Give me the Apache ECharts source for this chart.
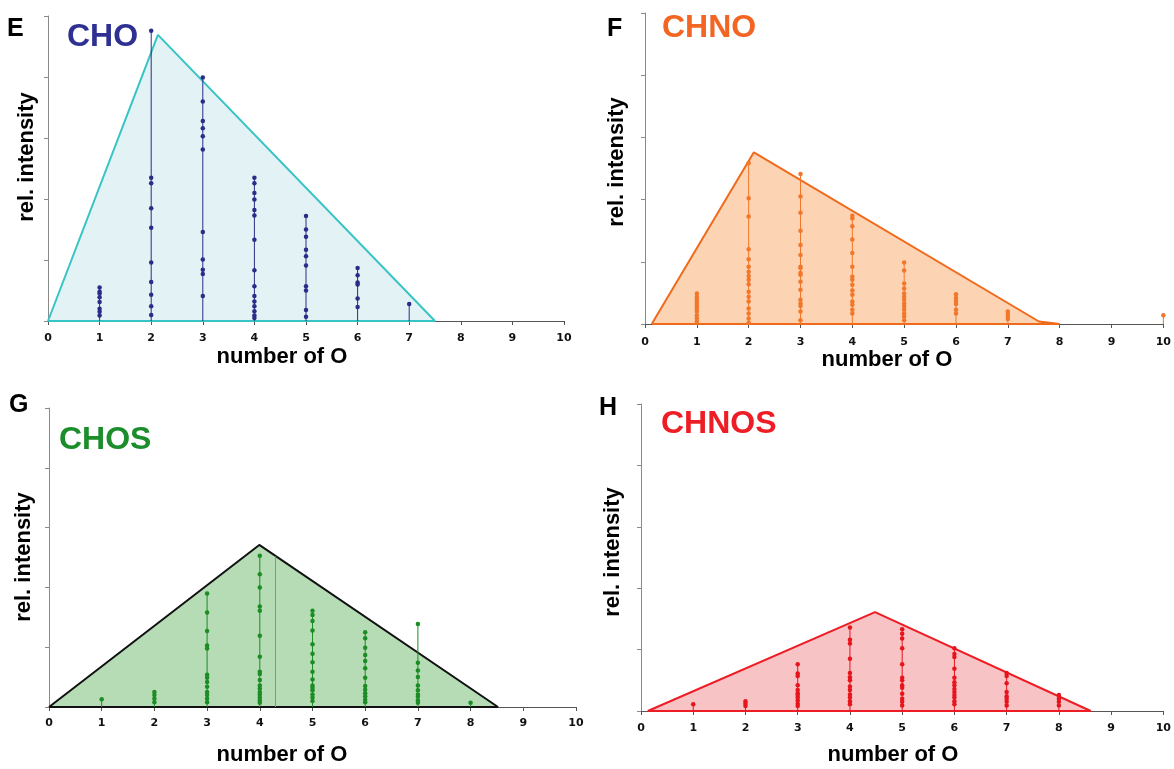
<!DOCTYPE html>
<html><head><meta charset="utf-8">
<script src="https://cdn.jsdelivr.net/npm/echarts@6/dist/echarts.min.js"></script>
<style>html,body{margin:0;padding:0;background:#fff}#c{width:1174px;height:769px}</style>
</head><body><div id="c"></div>
<script>
// ---- data ----
const xTickLabels = ['0','1','2','3','4','5','6','7','8','9','10'];
const xAxisTitle = 'number of O';
const yAxisTitle = 'rel. intensity';

// CHO (panel E): [number of O, rel. intensity]
const choPoints = [
  [1,0.55],[1,0.48],[1,0.45],[1,0.39],[1,0.31],[1,0.20],[1,0.15],[1,0.09],
  [2,4.76],[2,2.35],[2,2.26],[2,1.85],[2,1.53],[2,0.96],[2,0.64],[2,0.43],[2,0.24],[2,0.10],
  [3,3.99],[3,3.60],[3,3.28],[3,3.16],[3,3.03],[3,2.81],[3,1.46],[3,1.01],[3,0.84],[3,0.77],[3,0.41],
  [4,2.35],[4,2.26],[4,2.10],[4,1.99],[4,1.82],[4,1.73],[4,1.33],[4,0.83],[4,0.57],[4,0.41],[4,0.32],[4,0.24],[4,0.16],[4,0.09],[4,0.05],
  [5,1.72],[5,1.50],[5,1.38],[5,1.17],[5,1.06],[5,0.91],[5,0.57],[5,0.50],[5,0.18],[5,0.07],
  [6,0.87],[6,0.75],[6,0.63],[6,0.60],[6,0.37],[6,0.23],
  [7,0.28]
];
const choEnvelope = [[0,0],[2.13,4.69],[7.5,0],[0,0]];

// CHNO (panel F)
const chnoPoints = [
  [1,0.49],[1,0.44],[1,0.40],[1,0.36],[1,0.32],[1,0.28],[1,0.24],[1,0.20],[1,0.14],[1,0.09],[1,0.04],
  [2,2.59],[2,2.02],[2,1.73],[2,1.20],[2,1.04],[2,0.92],[2,0.84],[2,0.77],[2,0.71],[2,0.64],[2,0.52],[2,0.44],[2,0.36],[2,0.25],[2,0.17],[2,0.09],[2,0.02],
  [3,2.41],[3,2.05],[3,1.79],[3,1.50],[3,1.27],[3,1.11],[3,0.92],[3,0.90],[3,0.82],[3,0.79],[3,0.68],[3,0.55],[3,0.39],[3,0.33],[3,0.29],[3,0.20],[3,0.06],
  [4,1.74],[4,1.70],[4,1.57],[4,1.36],[4,1.14],[4,0.92],[4,0.76],[4,0.71],[4,0.63],[4,0.54],[4,0.47],[4,0.36],[4,0.31],[4,0.23],[4,0.17],
  [5,0.99],[5,0.86],[5,0.65],[5,0.57],[5,0.49],[5,0.44],[5,0.39],[5,0.33],[5,0.28],[5,0.23],[5,0.17],[5,0.12],[5,0.06],
  [6,0.48],[6,0.42],[6,0.37],[6,0.32],[6,0.23],[6,0.17],
  [7,0.20],[7,0.16],[7,0.12],[7,0.08],
  [10,0.14]
];
const chnoEnvelope = [[0.13,0],[2.1,2.76],[7.6,0.04],[8,0],[0.13,0]];

// CHOS (panel G)
const chosPoints = [
  [1,0.13],
  [2,0.25],[2,0.20],[2,0.14],[2,0.08],
  [3,1.90],[3,1.58],[3,1.27],[3,1.03],[3,0.98],[3,0.54],[3,0.49],[3,0.42],[3,0.34],[3,0.25],[3,0.20],[3,0.14],[3,0.08],
  [4,2.53],[4,2.22],[4,2.00],[4,1.68],[4,1.61],[4,1.19],[4,0.84],[4,0.59],[4,0.55],[4,0.45],[4,0.36],[4,0.31],[4,0.25],[4,0.21],[4,0.16],[4,0.11],[4,0.07],
  [5,1.61],[5,1.54],[5,1.44],[5,1.28],[5,1.05],[5,0.89],[5,0.75],[5,0.59],[5,0.46],[5,0.36],[5,0.32],[5,0.28],[5,0.21],[5,0.16],[5,0.10],
  [6,1.25],[6,1.15],[6,0.99],[6,0.87],[6,0.77],[6,0.65],[6,0.49],[6,0.35],[6,0.29],[6,0.23],[6,0.18],[6,0.12],[6,0.08],
  [7,1.39],[7,0.74],[7,0.61],[7,0.50],[7,0.36],[7,0.28],[7,0.21],[7,0.17],[7,0.11],[7,0.07],
  [8,0.07]
];
const chosEnvelope = [[0,0],[3.99,2.71],[8.52,0],[0,0]];
const chosGuide = [[4.3,0],[4.3,2.52]];

// CHNOS (panel H)
const chnosPoints = [
  [1,0.11],
  [2,0.16],[2,0.12],[2,0.08],
  [3,0.76],[3,0.61],[3,0.57],[3,0.42],[3,0.34],[3,0.29],[3,0.26],[3,0.22],[3,0.17],[3,0.12],[3,0.08],
  [4,1.36],[4,1.16],[4,1.10],[4,0.85],[4,0.62],[4,0.55],[4,0.50],[4,0.40],[4,0.34],[4,0.27],[4,0.22],[4,0.16],[4,0.11],
  [5,1.33],[5,1.26],[5,1.18],[5,1.02],[5,0.76],[5,0.54],[5,0.50],[5,0.42],[5,0.38],[5,0.28],[5,0.20],[5,0.15],[5,0.09],
  [6,1.02],[6,0.93],[6,0.88],[6,0.69],[6,0.54],[6,0.47],[6,0.42],[6,0.36],[6,0.31],[6,0.26],[6,0.22],[6,0.16],[6,0.11],
  [7,0.62],[7,0.57],[7,0.45],[7,0.31],[7,0.24],[7,0.20],[7,0.15],[7,0.09],
  [8,0.26],[8,0.20],[8,0.15],[8,0.09]
];
const chnosEnvelope = [[0.13,0],[4.48,1.61],[8.61,0],[0.13,0]];

// ---- layout / styles ----
const FONT = '"Liberation Sans", Arial, Helvetica, sans-serif';
const TICKFONT = '"DejaVu Sans", Verdana, sans-serif';
const panels = [
  {letter:'E', name:'CHO', points:choPoints, env:choEnvelope,
   grid:{left:48, top:16, width:516, height:305},
   stroke:'#36c4c6', fill:'#e3f2f5', dot:'#2a2d88', title:'#2e3192',
   letterPos:[7,29], titlePos:[67,37], yNamePos:[27,157], xNamePos:[282,357], labelMargin:12},
  {letter:'F', name:'CHNO', points:chnoPoints, env:chnoEnvelope,
   grid:{left:645, top:13, width:524, height:311},
   stroke:'#f06a1c', fill:'#fcd3b3', dot:'#f2772a', title:'#f26522',
   letterPos:[607,29], titlePos:[662,28], yNamePos:[617,162], xNamePos:[887,360], labelMargin:13},
  {letter:'G', name:'CHOS', points:chosPoints, env:chosEnvelope, guide:chosGuide,
   grid:{left:49, top:408, width:527, height:299},
   stroke:'#111111', fill:'#b6dcb6', dot:'#1c8c24', title:'#1b8e2b',
   letterPos:[9,405], titlePos:[59,440], yNamePos:[24,557], xNamePos:[282,755], labelMargin:11},
  {letter:'H', name:'CHNOS', points:chnosPoints, env:chnosEnvelope,
   grid:{left:641, top:404, width:523, height:307},
   stroke:'#ee1c24', fill:'#f8c3c5', dot:'#e8141c', title:'#ee1c24',
   letterPos:[599,408], titlePos:[661,424], yNamePos:[613,552], xNamePos:[893,755], labelMargin:12}
];

function stemsOf(points){
  const m = {};
  points.forEach(p => { m[p[0]] = Math.max(m[p[0]] || 0, p[1]); });
  return Object.keys(m).map(k => [Number(k), m[k]]);
}

const option = {
  backgroundColor:'#ffffff',
  animation:false,
  grid:[], xAxis:[], yAxis:[], series:[], graphic:[]
};

panels.forEach((p,i) => {
  option.grid.push(Object.assign({containLabel:false}, p.grid));
  option.xAxis.push({
    type:'value', gridIndex:i, min:0, max:10, interval:1,
    axisLine:{show:true, onZero:false, lineStyle:{color:'#555', width:1}},
    axisTick:{show:true, length:4, lineStyle:{color:'#555'}},
    axisLabel:{show:true, margin:p.labelMargin, color:'#111', fontWeight:'bold', fontSize:11, fontFamily:TICKFONT,
      formatter:v => xTickLabels[Math.round(v)] || ''},
    splitLine:{show:false}
  });
  option.yAxis.push({
    type:'value', gridIndex:i, min:0, max:5, interval:1,
    axisLine:{show:true, lineStyle:{color:'#8a8a8a', width:1}},
    axisTick:{show:true, length:4, lineStyle:{color:'#8a8a8a'}},
    axisLabel:{show:false}, splitLine:{show:false}
  });
  // envelope triangle
  const envSeries = {
    type:'line', xAxisIndex:i, yAxisIndex:i, data:p.env, symbol:'none', z:2,
    lineStyle:{color:p.stroke, width:2}, areaStyle:{color:p.fill, opacity:1}, silent:true
  };
  if (p.guide) {
    envSeries.markLine = {silent:true, symbol:'none', label:{show:false},
      lineStyle:{color:'#7a9a7a', width:1, type:'solid'},
      data:[[{coord:p.guide[0]},{coord:p.guide[1]}]]};
  }
  option.series.push(envSeries);
  // stems
  option.series.push({
    type:'custom', xAxisIndex:i, yAxisIndex:i, data:stemsOf(p.points), z:3, silent:true,
    renderItem:(params, api) => {
      const a = api.coord([api.value(0), 0]);
      const b = api.coord([api.value(0), api.value(1)]);
      return {type:'line', shape:{x1:a[0], y1:a[1], x2:b[0], y2:b[1]},
              style:{stroke:p.dot, lineWidth:1}};
    }
  });
  // points
  option.series.push({
    type:'scatter', xAxisIndex:i, yAxisIndex:i, data:p.points, symbol:'circle', symbolSize:4.5, z:4,
    itemStyle:{color:p.dot, opacity:1}, silent:true
  });
  // texts
  option.graphic.push({type:'text', x:p.letterPos[0], y:p.letterPos[1],
    style:{text:p.letter, font:'bold 25px ' + FONT, fill:'#000', align:'left', verticalAlign:'middle'}});
  option.graphic.push({type:'text', x:p.titlePos[0], y:p.titlePos[1],
    style:{text:p.name, font:'bold 32px ' + FONT, fill:p.title, align:'left', verticalAlign:'middle'}});
  option.graphic.push({type:'text', x:p.yNamePos[0], y:p.yNamePos[1], rotation:Math.PI/2,
    style:{text:yAxisTitle, font:'bold 22px ' + FONT, fill:'#000', align:'center', verticalAlign:'middle'}});
  option.graphic.push({type:'text', x:p.xNamePos[0], y:p.xNamePos[1],
    style:{text:xAxisTitle, font:'bold 22px ' + FONT, fill:'#000', align:'center', verticalAlign:'middle'}});
});

const chart = echarts.init(document.getElementById('c'), null, {renderer:'canvas'});
chart.setOption(option);
</script>
</body></html>
